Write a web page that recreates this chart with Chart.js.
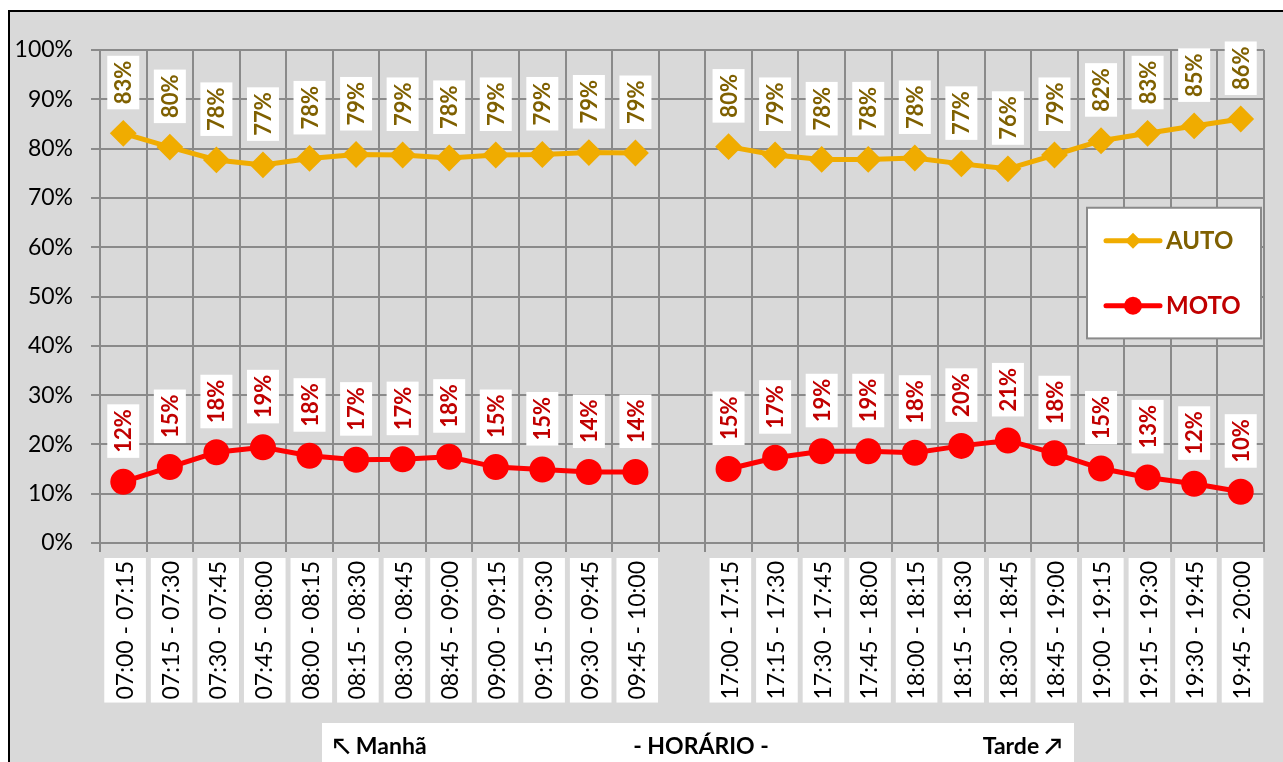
<!DOCTYPE html>
<html>
<head>
<meta charset="utf-8">
<script src="https://cdn.jsdelivr.net/npm/chart.js@4/dist/chart.umd.min.js"></script>
<style>
  html, body { margin: 0; padding: 0; background: #ffffff; }
  #wrap { width: 1283px; height: 762px; }
</style>
</head>
<body>
<div id="wrap"><canvas id="myChart" width="1283" height="762"></canvas></div>
<script>
// time slots (empty slot = break between morning and afternoon)
const categories = [
  '07:00 - 07:15', '07:15 - 07:30', '07:30 - 07:45', '07:45 - 08:00',
  '08:00 - 08:15', '08:15 - 08:30', '08:30 - 08:45', '08:45 - 09:00',
  '09:00 - 09:15', '09:15 - 09:30', '09:30 - 09:45', '09:45 - 10:00',
  '',
  '17:00 - 17:15', '17:15 - 17:30', '17:30 - 17:45', '17:45 - 18:00',
  '18:00 - 18:15', '18:15 - 18:30', '18:30 - 18:45', '18:45 - 19:00',
  '19:00 - 19:15', '19:15 - 19:30', '19:30 - 19:45', '19:45 - 20:00'
];

// share of traffic (%)
const autoValues = [
  83.1, 80.3, 77.7, 76.7, 78.0, 78.8, 78.7, 78.1, 78.7, 78.8, 79.2, 79.1,
  null,
  80.4, 78.7, 77.8, 77.8, 78.1, 76.9, 75.9, 78.7, 81.6, 83.1, 84.6, 86.0
];
const motoValues = [
  12.4, 15.4, 18.4, 19.4, 17.7, 16.9, 17.0, 17.5, 15.4, 14.9, 14.4, 14.4,
  null,
  15.0, 17.3, 18.6, 18.6, 18.3, 19.7, 20.8, 18.2, 15.1, 13.3, 12.0, 10.4
];

const seriesNames = ['AUTO', 'MOTO'];
const axisTitleParts = ['\u2196 Manh\u00e3', '- HOR\u00c1RIO -', 'Tarde \u2197'];

const FONT = 'Lato, "Open Sans", sans-serif';
const GRID = '#8a8a8a';
const AUTO_COLOR = '#f0ac00';
const AUTO_TEXT = '#7f6000';
const MOTO_COLOR = '#ff0000';
const MOTO_TEXT = '#c00000';

// grey background with black frame
const framePlugin = {
  id: 'frame',
  beforeDraw(chart) {
    const ctx = chart.ctx;
    ctx.save();
    ctx.fillStyle = '#ffffff';
    ctx.fillRect(0, 0, chart.width, chart.height);
    ctx.fillStyle = '#d9d9d9';
    ctx.fillRect(9, 11, chart.width - 9, chart.height - 11);
    ctx.strokeStyle = '#000000';
    ctx.lineWidth = 2;
    ctx.beginPath();
    ctx.moveTo(9, chart.height);
    ctx.lineTo(9, 11);
    ctx.lineTo(chart.width, 11);
    ctx.stroke();
    ctx.restore();
  }
};

// rotated value labels in white boxes above each point
const valueLabelPlugin = {
  id: 'valueLabels',
  afterDatasetsDraw(chart) {
    const ctx = chart.ctx;
    ctx.save();
    ctx.font = 'bold 22px ' + FONT;
    ctx.textBaseline = 'middle';
    ctx.textAlign = 'left';
    chart.data.datasets.forEach(function(ds, di) {
      const meta = chart.getDatasetMeta(di);
      meta.data.forEach(function(pt, i) {
        const v = ds.data[i];
        if (v === null || v === undefined) return;
        const txt = Math.round(v) + '%';
        const w = ctx.measureText(txt).width;
        ctx.save();
        ctx.translate(pt.x, pt.y - 29);
        ctx.rotate(-Math.PI / 2);
        ctx.fillStyle = '#ffffff';
        ctx.fillRect(-5, -16, w + 10, 32);
        ctx.fillStyle = ds.labelColor;
        ctx.fillText(txt, 0, 1);
        ctx.restore();
      });
    });
    ctx.restore();
  }
};

// legend box inside the plot area
const legendBoxPlugin = {
  id: 'legendBox',
  afterDraw(chart) {
    const ctx = chart.ctx;
    const ca = chart.chartArea;
    const ys = chart.scales.y;
    const left = ca.right - 177;
    const right = ca.right - 3;
    const top = ys.getPixelForValue(68);
    const bottom = ys.getPixelForValue(41.5);
    ctx.save();
    ctx.fillStyle = '#ffffff';
    ctx.fillRect(left, top, right - left, bottom - top);
    ctx.strokeStyle = GRID;
    ctx.lineWidth = 2;
    ctx.strokeRect(left, top, right - left, bottom - top);

    chart.data.datasets.forEach(function(ds, di) {
      const y = top + 33 + di * 65;
      const mx = left + 46;
      ctx.strokeStyle = ds.borderColor;
      ctx.lineWidth = 5;
      ctx.lineCap = 'round';
      ctx.beginPath();
      ctx.moveTo(left + 19, y);
      ctx.lineTo(left + 73, y);
      ctx.stroke();
      ctx.fillStyle = ds.borderColor;
      ctx.beginPath();
      if (ds.pointStyle === 'rectRot') {
        const r = 8;
        ctx.moveTo(mx, y - r);
        ctx.lineTo(mx + r, y);
        ctx.lineTo(mx, y + r);
        ctx.lineTo(mx - r, y);
        ctx.closePath();
      } else {
        ctx.arc(mx, y, 9, 0, Math.PI * 2);
      }
      ctx.fill();
      ctx.fillStyle = ds.labelColor;
      ctx.font = 'bold 24px ' + FONT;
      ctx.textAlign = 'left';
      ctx.textBaseline = 'middle';
      ctx.fillText(ds.label, left + 79, y + 1);
    });
    ctx.restore();
  }
};

// x axis title in a white strip at the bottom
const axisTitlePlugin = {
  id: 'axisTitle',
  afterDraw(chart) {
    const ctx = chart.ctx;
    const left = 322, right = 1074, top = 723;
    ctx.save();
    ctx.fillStyle = '#ffffff';
    ctx.fillRect(left, top, right - left, chart.height - top);
    ctx.fillStyle = '#000000';
    ctx.font = 'bold 23px ' + FONT;
    ctx.textBaseline = 'middle';
    const y = top + 24;
    ctx.textAlign = 'left';
    ctx.fillText(axisTitleParts[0], left + 11, y);
    ctx.textAlign = 'center';
    ctx.fillText(axisTitleParts[1], 701, y);
    ctx.textAlign = 'right';
    ctx.fillText(axisTitleParts[2], right - 12, y);
    ctx.restore();
  }
};

const ctx = document.getElementById('myChart');
new Chart(ctx, {
  type: 'line',
  data: {
    labels: categories,
    datasets: [{
      label: seriesNames[0],
      data: autoValues,
      borderColor: AUTO_COLOR,
      backgroundColor: AUTO_COLOR,
      labelColor: AUTO_TEXT,
      borderWidth: 5,
      pointStyle: 'rectRot',
      pointRadius: 12,
      pointBorderWidth: 2,
      pointBackgroundColor: AUTO_COLOR,
      pointBorderColor: AUTO_COLOR,
      tension: 0
    }, {
      label: seriesNames[1],
      data: motoValues,
      borderColor: MOTO_COLOR,
      backgroundColor: MOTO_COLOR,
      labelColor: MOTO_TEXT,
      borderWidth: 5,
      pointStyle: 'circle',
      pointRadius: 12,
      pointBorderWidth: 2,
      pointBackgroundColor: MOTO_COLOR,
      pointBorderColor: MOTO_COLOR,
      tension: 0
    }]
  },
  options: {
    responsive: false,
    animation: false,
    devicePixelRatio: 1,
    spanGaps: false,
    layout: { padding: { top: 50, right: 19, left: 0, bottom: 0 } },
    plugins: {
      legend: { display: false },
      tooltip: { enabled: false }
    },
    scales: {
      x: {
        offset: true,
        grid: { offset: true, color: GRID, lineWidth: 2, tickLength: 9 },
        border: { color: GRID, width: 2 },
        ticks: {
          autoSkip: false,
          minRotation: 90,
          maxRotation: 90,
          color: '#000000',
          font: { family: FONT, size: 23 },
          padding: 9,
          labelOffset: -12,
          showLabelBackdrop: true,
          backdropColor: function(c) { return c.tick && c.tick.label ? '#ffffff' : 'rgba(0,0,0,0)'; },
          backdropPadding: { top: 7, bottom: 7, left: 3, right: 3 }
        },
        afterFit: function(scale) { scale.height = 219; }
      },
      y: {
        min: 0,
        max: 100,
        grid: { color: GRID, lineWidth: 2, tickLength: 9 },
        border: { color: GRID, width: 2 },
        ticks: {
          stepSize: 10,
          color: '#000000',
          font: { family: FONT, size: 23 },
          padding: 18,
          callback: function(v) { return v + '%'; }
        },
        afterFit: function(scale) { scale.width = 100; }
      }
    }
  },
  plugins: [framePlugin, valueLabelPlugin, legendBoxPlugin, axisTitlePlugin]
});
</script>
</body>
</html>
